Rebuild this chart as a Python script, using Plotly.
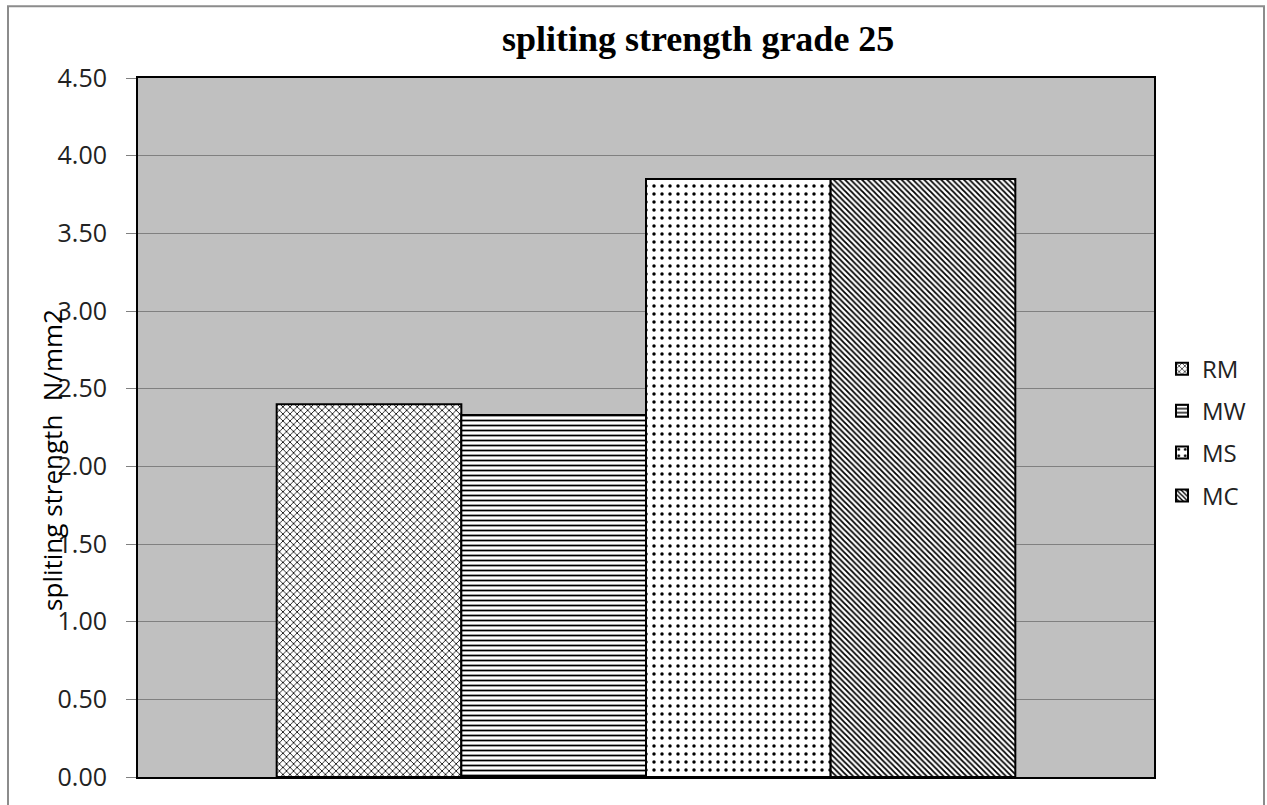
import plotly.graph_objects as go

# Splitting tensile strength, grade 25 concrete (N/mm2)
series_names = ["RM", "MW", "MS", "MC"]
series_values = [2.40, 2.33, 3.85, 3.85]
category = ["grade 25"]
tick_values = [0, 0.5, 1.0, 1.5, 2.0, 2.5, 3.0, 3.5, 4.0, 4.5]
tick_labels = ["0.00", "0.50", "1.00", "1.50", "2.00", "2.50", "3.00", "3.50", "4.00", "4.50"]

# hatch style per series
patterns = {
    "RM": dict(shape="x", size=5, solidity=0.3),
    "MW": dict(shape="-", size=5, solidity=0.35),
    "MS": dict(shape=".", size=8, solidity=0.15),
    "MC": dict(shape="\\", size=4, solidity=0.45),
}

W, H = 1267, 805
L, R, T, B = 138, 1154, 78, 779   # plot area in pixels


def px_x(x):
    return (x - L) / (R - L)


def px_y(y):
    return (B - y) / (B - T)


fig = go.Figure()
legend_ids = ["legend", "legend2", "legend3", "legend4"]
legend_rows = [370, 412, 454, 497]

for name, val, lid in zip(series_names, series_values, legend_ids):
    p = patterns[name]
    fig.add_trace(go.Bar(
        name=name,
        x=category,
        y=[val],
        legend=lid,
        marker=dict(
            color="white",
            line=dict(color="black", width=2),
            pattern=dict(shape=p["shape"], size=p["size"], solidity=p["solidity"],
                         fgcolor="black", bgcolor="white", fillmode="replace"),
        ),
    ))

legend_common = dict(
    x=px_x(1162), xanchor="left", yanchor="middle",
    bgcolor="rgba(0,0,0,0)", borderwidth=0,
    font=dict(family="Open Sans", size=24, color="#222222"),
)
layout_legends = {}
for lid, row in zip(legend_ids, legend_rows):
    layout_legends[lid] = dict(legend_common, y=px_y(row))

fig.update_layout(
    width=W, height=H,
    margin=dict(l=L, r=W - R, t=T, b=H - B, pad=0),
    paper_bgcolor="white",
    plot_bgcolor="#C0C0C0",
    barmode="group",
    bargap=0.273,
    bargroupgap=0,
    showlegend=True,
    **layout_legends,
)

fig.update_xaxes(
    showticklabels=False, ticks="", showgrid=False,
    showline=True, linecolor="black", linewidth=2, mirror=True,
)
fig.update_yaxes(
    range=[0, 4.5], tickmode="array", tickvals=tick_values, ticktext=tick_labels,
    ticks="outside", ticklen=10, tickcolor="#808080", tickwidth=1,
    ticklabelstandoff=14,
    tickfont=dict(family="Open Sans", size=25, color="#222222"),
    showgrid=True, gridcolor="#808080", gridwidth=1,
    showline=True, linecolor="black", linewidth=2, mirror=True,
    zeroline=False,
)

# chart title
fig.add_annotation(
    text="<b>spliting strength grade 25</b>",
    xref="paper", yref="paper", x=px_x(698), y=px_y(39),
    xanchor="center", yanchor="middle", showarrow=False,
    font=dict(family="Liberation Serif", size=36, color="black"),
)

# value axis title
fig.add_annotation(
    text="spliting strength\u00a0\u00a0N/mm2",
    xref="paper", yref="paper", x=px_x(52), y=px_y(461),
    xanchor="center", yanchor="middle", showarrow=False, textangle=-90,
    font=dict(family="Open Sans", size=26, color="black"),
)

# chart area frame
fig.add_shape(
    type="rect", xref="paper", yref="paper",
    x0=px_x(8), x1=px_x(1264), y0=px_y(812), y1=px_y(6),
    line=dict(color="#8C8C8C", width=2), fillcolor="rgba(0,0,0,0)", layer="above",
)

fig.write_html("out.html")
